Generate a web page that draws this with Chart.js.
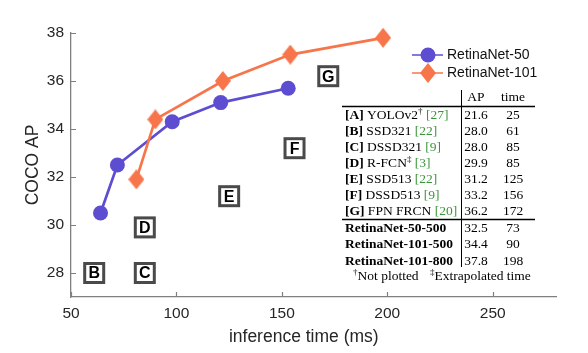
<!DOCTYPE html>
<html>
<head>
<meta charset="utf-8">
<script src="https://cdn.jsdelivr.net/npm/chart.js@4/dist/chart.umd.min.js"></script>
<style>
  html, body { margin: 0; padding: 0; background: #fff; }
  #wrap { position: relative; width: 588px; height: 353px; }
</style>
</head>
<body>
<div id="wrap"><canvas id="c" width="588" height="353"></canvas></div>
<script>
// ---- data ----
const r50Time = [64, 72, 98, 121, 153];
const r50AP   = [30.5, 32.5, 34.3, 35.1, 35.7];
const r101Time = [81, 90, 122, 154, 198];
const r101AP   = [31.9, 34.4, 36.0, 37.1, 37.8];

const seriesNames = ['RetinaNet-50', 'RetinaNet-101'];

const xTicks = [50, 100, 150, 200, 250];
const yTicks = [28, 30, 32, 34, 36, 38];

const tableKeys  = ['A', 'B', 'C', 'D', 'E', 'F', 'G'];
const tableNames = ['YOLOv2', 'SSD321', 'DSSD321', 'R-FCN', 'SSD513', 'DSSD513', 'FPN FRCN'];
const tableMarks = ['†', '', '', '‡', '', '', ''];
const tableRefs  = ['27', '22', '9', '3', '22', '9', '20'];
const tableAP    = [21.6, 28.0, 28.0, 29.9, 31.2, 33.2, 36.2];
const tableTime  = [25, 61, 85, 85, 125, 156, 172];

const retinaRows = ['RetinaNet-50-500', 'RetinaNet-101-500', 'RetinaNet-101-800'];
const retinaAP   = [32.5, 34.4, 37.8];
const retinaTime = [73, 90, 198];

// ---- styles ----
const BLUE = '#5d4dd1';
const ORANGE = '#f7754b';
const GREEN = '#3a963a';
const SANS = '"Liberation Sans", Arial, Helvetica, sans-serif';
const SERIF = '"Liberation Serif", "Times New Roman", serif';

function diamondImg(w, h, color) {
  const c = document.createElement('canvas');
  c.width = w; c.height = h;
  const g = c.getContext('2d');
  g.fillStyle = color;
  g.beginPath();
  g.moveTo(w / 2, 0); g.lineTo(w, h / 2); g.lineTo(w / 2, h); g.lineTo(0, h / 2);
  g.closePath(); g.fill();
  return c;
}
const diamond = diamondImg(16, 20, ORANGE);

const inwardTicks = {
  id: 'inwardTicks',
  beforeDatasetsDraw(chart) {
    const ctx = chart.ctx, a = chart.chartArea;
    const xs = chart.scales.x, ys = chart.scales.y;
    ctx.save();
    ctx.strokeStyle = '#808080';
    ctx.lineWidth = 1.2;
    ctx.beginPath();
    xTicks.forEach(v => { const px = Math.round(xs.getPixelForValue(v)) + 0.5; ctx.moveTo(px, a.bottom); ctx.lineTo(px, a.bottom - 5); });
    yTicks.forEach(v => { const py = Math.round(ys.getPixelForValue(v)) + 0.5; ctx.moveTo(a.left, py); ctx.lineTo(a.left + 5, py); });
    ctx.stroke();
    ctx.restore();
  }
};

const letterBoxes = {
  id: 'letterBoxes',
  afterDatasetsDraw(chart) {
    const ctx = chart.ctx;
    const xs = chart.scales.x, ys = chart.scales.y;
    ctx.save();
    tableKeys.forEach((k, i) => {
      if (tableTime[i] < xs.min) return; // not plotted
      const cx = xs.getPixelForValue(tableTime[i]);
      const cy = ys.getPixelForValue(tableAP[i]);
      const s = 22;
      ctx.fillStyle = '#fff';
      ctx.fillRect(cx - s / 2, cy - s / 2, s, s);
      ctx.strokeStyle = '#4a4a4a';
      ctx.lineWidth = 3;
      ctx.strokeRect(cx - s / 2 + 1.5, cy - s / 2 + 1.5, s - 3, s - 3);
      ctx.fillStyle = '#000';
      ctx.font = 'bold 16px ' + SANS;
      ctx.textAlign = 'center';
      ctx.textBaseline = 'middle';
      ctx.fillText(k, cx, cy + 1);
    });
    ctx.restore();
  }
};

function drawSegs(ctx, x, y, segs, size) {
  segs.forEach(s => {
    const fs = s.sup ? 9 : size;
    ctx.font = (s.b ? 'bold ' : '') + fs + 'px ' + SERIF;
    ctx.fillStyle = s.c || '#000';
    ctx.fillText(s.t, x, s.sup ? y - 5 : y);
    x += ctx.measureText(s.t).width;
  });
}

const tablePlugin = {
  id: 'tablePlugin',
  afterDraw(chart) {
    const ctx = chart.ctx;
    ctx.save();
    const fs = 13.5;
    ctx.textBaseline = 'alphabetic';
    // header
    ctx.font = fs + 'px ' + SERIF;
    ctx.fillStyle = '#000';
    ctx.textAlign = 'center';
    ctx.fillText('AP', 476, 101);
    ctx.fillText('time', 513, 101);
    // rules
    ctx.strokeStyle = '#000';
    ctx.lineWidth = 1.3;
    ctx.beginPath();
    ctx.moveTo(342, 106.5); ctx.lineTo(535, 106.5);
    ctx.moveTo(342, 219.5); ctx.lineTo(535, 219.5);
    ctx.stroke();
    ctx.lineWidth = 1;
    ctx.beginPath();
    ctx.moveTo(461.5, 90); ctx.lineTo(461.5, 267);
    ctx.stroke();
    // method rows
    tableKeys.forEach((k, i) => {
      const y = 119 + 16 * i;
      ctx.textAlign = 'left';
      const segs = [{ t: '[' + k + ']', b: true }, { t: ' ' + tableNames[i] }];
      if (tableMarks[i]) segs.push({ t: tableMarks[i], sup: true });
      segs.push({ t: ' ' });
      segs.push({ t: '[' + tableRefs[i] + ']', c: GREEN });
      drawSegs(ctx, 345, y, segs, fs);
      ctx.textAlign = 'center';
      ctx.font = fs + 'px ' + SERIF;
      ctx.fillStyle = '#000';
      ctx.fillText(tableAP[i].toFixed(1), 476, y);
      ctx.fillText(String(tableTime[i]), 513, y);
    });
    retinaRows.forEach((n, i) => {
      const y = 231.5 + 16.5 * i;
      ctx.textAlign = 'left';
      drawSegs(ctx, 345, y, [{ t: n, b: true }], fs);
      ctx.textAlign = 'center';
      ctx.font = fs + 'px ' + SERIF;
      ctx.fillStyle = '#000';
      ctx.fillText(retinaAP[i].toFixed(1), 476, y);
      ctx.fillText(String(retinaTime[i]), 513, y);
    });
    ctx.textAlign = 'left';
    drawSegs(ctx, 353, 280, [{ t: '†', sup: true }, { t: 'Not plotted' }], fs);
    drawSegs(ctx, 430, 280, [{ t: '‡', sup: true }, { t: 'Extrapolated time' }], fs);
    ctx.restore();
  }
};

const customLegend = {
  id: 'customLegend',
  afterDraw(chart) {
    const ctx = chart.ctx;
    ctx.save();
    const rows = [
      { name: seriesNames[0], color: BLUE, y: 55, marker: 'circle' },
      { name: seriesNames[1], color: ORANGE, y: 73, marker: 'diamond' }
    ];
    rows.forEach(r => {
      ctx.strokeStyle = r.color;
      ctx.lineWidth = 1.5;
      ctx.beginPath();
      ctx.moveTo(412, r.y); ctx.lineTo(443, r.y);
      ctx.stroke();
      if (r.marker === 'circle') {
        ctx.fillStyle = r.color;
        ctx.beginPath(); ctx.arc(428, r.y, 7.5, 0, Math.PI * 2); ctx.fill();
      } else {
        ctx.drawImage(diamond, 428 - diamond.width / 2, r.y - diamond.height / 2);
      }
      ctx.fillStyle = '#111';
      ctx.font = '14px ' + SANS;
      ctx.textAlign = 'left';
      ctx.textBaseline = 'middle';
      ctx.fillText(r.name, 447, r.y);
    });
    ctx.restore();
  }
};

const tickFont = { family: SANS, size: 15.5 };
const titleFont = { family: SANS, size: 17.5 };

new Chart(document.getElementById('c'), {
  type: 'scatter',
  data: {
    datasets: [
      {
        label: seriesNames[0],
        data: r50Time.map((t, i) => ({ x: t, y: r50AP[i] })),
        showLine: true,
        borderColor: BLUE,
        backgroundColor: BLUE,
        borderWidth: 2.7,
        pointStyle: 'circle',
        pointRadius: 7.5,
        pointHoverRadius: 7.5,
        pointBorderWidth: 0,
        clip: false,
        order: 1
      },
      {
        label: seriesNames[1],
        data: r101Time.map((t, i) => ({ x: t, y: r101AP[i] })),
        showLine: true,
        borderColor: ORANGE,
        backgroundColor: ORANGE,
        borderWidth: 2.7,
        pointStyle: diamond,
        pointRadius: 9,
        pointBorderWidth: 0,
        clip: false,
        order: 0
      }
    ]
  },
  options: {
    responsive: false,
    animation: false,
    devicePixelRatio: 1,
    layout: { padding: { top: 33, right: 32, bottom: 0, left: 0 } },
    plugins: { legend: { display: false }, tooltip: { enabled: false } },
    scales: {
      x: {
        type: 'linear',
        min: 50, max: 280,
        afterBuildTicks: s => { s.ticks = xTicks.map(v => ({ value: v })); },
        afterFit: s => { s.height = 56; },
        grid: { display: false, drawTicks: false },
        border: { display: true, color: '#808080', width: 1.3 },
        ticks: { font: tickFont, color: '#262626', padding: 7, maxRotation: 0, autoSkip: false },
        title: { display: true, text: 'inference time (ms)    ', font: titleFont, color: '#262626', padding: { top: 0, bottom: 5.5 } }
      },
      y: {
        type: 'linear',
        min: 27, max: 38,
        afterBuildTicks: s => { s.ticks = yTicks.map(v => ({ value: v })); },
        afterFit: s => { s.width = 71; },
        grid: { display: false, drawTicks: false },
        border: { display: true, color: '#808080', width: 1.3 },
        ticks: { font: tickFont, color: '#262626', padding: 7, autoSkip: false },
        title: { display: true, text: 'COCO AP', font: titleFont, color: '#262626', padding: { top: 22.5, bottom: 0 } }
      }
    }
  },
  plugins: [inwardTicks, letterBoxes, tablePlugin, customLegend]
});
</script>
</body>
</html>
